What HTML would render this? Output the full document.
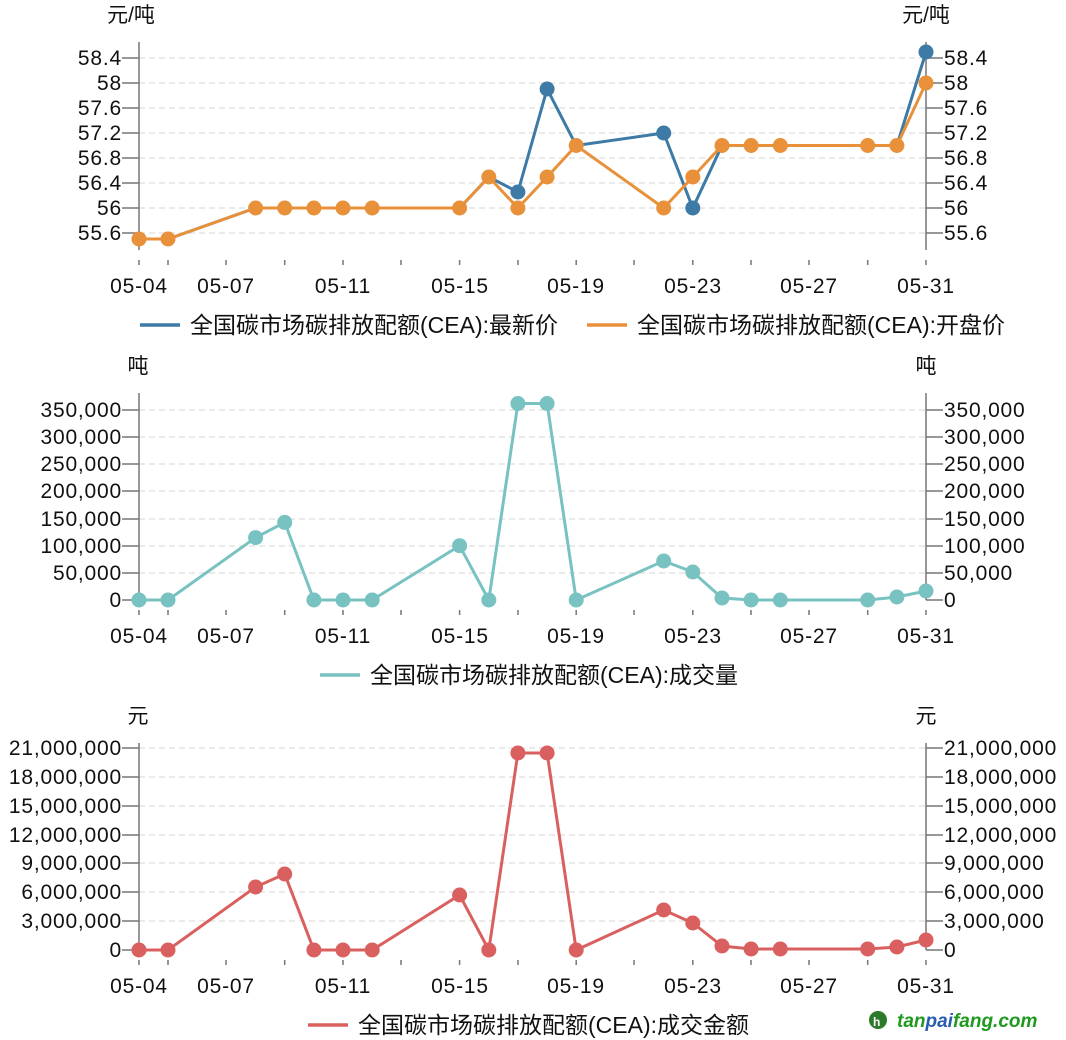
<!DOCTYPE html>
<html><head><meta charset="utf-8"><style>
body{margin:0;background:#fff}
svg{display:block;font-family:"Liberation Sans","Noto Sans CJK SC",sans-serif;font-size:21px;fill:#111}
.n text,text.n{letter-spacing:0.8px}
.g{stroke:#ddd;stroke-dasharray:6 4;stroke-width:1.3}
.ax{stroke:#777;stroke-width:1.5;fill:none}
.l{text-anchor:end}
.m{text-anchor:middle}
.lg{font-size:23px}
.u{font-size:21px}
</style></head><body>
<svg width="1066" height="1040" viewBox="0 0 1066 1040">
<defs>
<g id="xl" class="n">
<text class="m" x="139">05-04</text><text class="m" x="226">05-07</text><text class="m" x="343">05-11</text><text class="m" x="460">05-15</text><text class="m" x="576">05-19</text><text class="m" x="693">05-23</text><text class="m" x="809">05-27</text><text class="m" x="926">05-31</text>
</g>
<path id="xt" class="ax" d="M139 0v5M168 0v5M226 0v5M284.7 0v5M343 0v5M401 0v5M459.6 0v5M518 0v5M576.2 0v5M634 0v5M692.8 0v5M751 0v5M809 0v5M867.7 0v5M926 0v5"/>
</defs>
<!-- Chart 1 -->
<text class="m u" x="131" y="22">元/吨</text><text class="m u" x="926" y="22">元/吨</text>
<g class="g"><line x1="139" x2="926" y1="58" y2="58"/><line x1="139" x2="926" y1="83" y2="83"/><line x1="139" x2="926" y1="108" y2="108"/><line x1="139" x2="926" y1="133" y2="133"/><line x1="139" x2="926" y1="158" y2="158"/><line x1="139" x2="926" y1="183" y2="183"/><line x1="139" x2="926" y1="208" y2="208"/><line x1="139" x2="926" y1="233" y2="233"/></g>
<path class="ax" d="M139 42V250M926 42V250M122 58h17M122 83h17M122 108h17M122 133h17M122 158h17M122 183h17M122 208h17M122 233h17M926 58h17M926 83h17M926 108h17M926 133h17M926 158h17M926 183h17M926 208h17M926 233h17"/>
<g class="l n"><text x="122" y="65">58.4</text><text x="122" y="90">58</text><text x="122" y="115">57.6</text><text x="122" y="140">57.2</text><text x="122" y="165">56.8</text><text x="122" y="190">56.4</text><text x="122" y="215">56</text><text x="122" y="240">55.6</text></g>
<g class="n"><text x="944" y="65">58.4</text><text x="944" y="90">58</text><text x="944" y="115">57.6</text><text x="944" y="140">57.2</text><text x="944" y="165">56.8</text><text x="944" y="190">56.4</text><text x="944" y="215">56</text><text x="944" y="240">55.6</text></g>
<use href="#xt" y="260"/>
<use href="#xl" y="293"/>
<polyline fill="none" stroke="#3d7aa6" stroke-width="3" points="139,239 168,239 255.6,208 284.7,208 313.9,208 343,208 372.2,208 459.6,208 488.8,177 517.9,192 547.1,89 576.2,145.5 663.7,133 692.8,208 722,145.5 751.1,145.5 780.3,145.5 867.7,145.5 896.9,145.5 926,52"/>
<g fill="#3d7aa6"><circle cx="517.9" cy="192" r="7.5"/><circle cx="547.1" cy="89" r="7.5"/><circle cx="663.7" cy="133" r="7.5"/><circle cx="692.8" cy="208" r="7.5"/><circle cx="926" cy="52" r="7.5"/></g>
<polyline fill="none" stroke="#e8913a" stroke-width="3" points="139,239 168,239 255.6,208 284.7,208 313.9,208 343,208 372.2,208 459.6,208 488.8,177 517.9,208 547.1,177 576.2,145.5 663.7,208 692.8,177 722,145.5 751.1,145.5 780.3,145.5 867.7,145.5 896.9,145.5 926,83"/>
<g fill="#e8913a"><circle cx="139" cy="239" r="7.5"/><circle cx="168" cy="239" r="7.5"/><circle cx="255.6" cy="208" r="7.5"/><circle cx="284.7" cy="208" r="7.5"/><circle cx="313.9" cy="208" r="7.5"/><circle cx="343" cy="208" r="7.5"/><circle cx="372.2" cy="208" r="7.5"/><circle cx="459.6" cy="208" r="7.5"/><circle cx="488.8" cy="177" r="7.5"/><circle cx="517.9" cy="208" r="7.5"/><circle cx="547.1" cy="177" r="7.5"/><circle cx="576.2" cy="145.5" r="7.5"/><circle cx="663.7" cy="208" r="7.5"/><circle cx="692.8" cy="177" r="7.5"/><circle cx="722" cy="145.5" r="7.5"/><circle cx="751.1" cy="145.5" r="7.5"/><circle cx="780.3" cy="145.5" r="7.5"/><circle cx="867.7" cy="145.5" r="7.5"/><circle cx="896.9" cy="145.5" r="7.5"/><circle cx="926" cy="83" r="7.5"/></g>
<line x1="140" x2="180" y1="325" y2="325" stroke="#3d7aa6" stroke-width="3.5"/><text class="lg" x="190" y="333">全国碳市场碳排放配额(CEA):最新价</text>
<line x1="587" x2="627" y1="325" y2="325" stroke="#e8913a" stroke-width="3.5"/><text class="lg" x="637" y="333">全国碳市场碳排放配额(CEA):开盘价</text>

<!-- Chart 2 -->
<text class="m u" x="138" y="373">吨</text><text class="m u" x="926" y="373">吨</text>
<g class="g"><line x1="139" x2="926" y1="410" y2="410"/><line x1="139" x2="926" y1="437" y2="437"/><line x1="139" x2="926" y1="464" y2="464"/><line x1="139" x2="926" y1="491" y2="491"/><line x1="139" x2="926" y1="519" y2="519"/><line x1="139" x2="926" y1="546" y2="546"/><line x1="139" x2="926" y1="573" y2="573"/></g>
<path class="ax" d="M139 393V600M926 393V600M122 410h17M122 437h17M122 464h17M122 491h17M122 519h17M122 546h17M122 573h17M122 600h17M926 410h17M926 437h17M926 464h17M926 491h17M926 519h17M926 546h17M926 573h17M926 600h17"/>
<g class="l n"><text x="122" y="417">350,000</text><text x="122" y="444">300,000</text><text x="122" y="471">250,000</text><text x="122" y="498">200,000</text><text x="122" y="526">150,000</text><text x="122" y="553">100,000</text><text x="122" y="580">50,000</text><text x="122" y="607">0</text></g>
<g class="n"><text x="944" y="417">350,000</text><text x="944" y="444">300,000</text><text x="944" y="471">250,000</text><text x="944" y="498">200,000</text><text x="944" y="526">150,000</text><text x="944" y="553">100,000</text><text x="944" y="580">50,000</text><text x="944" y="607">0</text></g>
<use href="#xt" y="610"/>
<use href="#xl" y="643"/>
<polyline fill="none" stroke="#78c2c1" stroke-width="3" points="139,600 168,600 255.6,537.6 284.7,522.4 313.9,600 343,600 372.2,600 459.6,545.7 488.8,600 517.9,403.5 547.1,403.5 576.2,600 663.7,561 692.8,572 722,598 751.1,600 780.3,600 867.7,600 896.9,597 926,591"/>
<g fill="#78c2c1"><circle cx="139" cy="600" r="7.5"/><circle cx="168" cy="600" r="7.5"/><circle cx="255.6" cy="537.6" r="7.5"/><circle cx="284.7" cy="522.4" r="7.5"/><circle cx="313.9" cy="600" r="7.5"/><circle cx="343" cy="600" r="7.5"/><circle cx="372.2" cy="600" r="7.5"/><circle cx="459.6" cy="545.7" r="7.5"/><circle cx="488.8" cy="600" r="7.5"/><circle cx="517.9" cy="403.5" r="7.5"/><circle cx="547.1" cy="403.5" r="7.5"/><circle cx="576.2" cy="600" r="7.5"/><circle cx="663.7" cy="561" r="7.5"/><circle cx="692.8" cy="572" r="7.5"/><circle cx="722" cy="598" r="7.5"/><circle cx="751.1" cy="600" r="7.5"/><circle cx="780.3" cy="600" r="7.5"/><circle cx="867.7" cy="600" r="7.5"/><circle cx="896.9" cy="597" r="7.5"/><circle cx="926" cy="591" r="7.5"/></g>
<line x1="320" x2="360" y1="675" y2="675" stroke="#78c2c1" stroke-width="3.5"/><text class="lg" x="370" y="683">全国碳市场碳排放配额(CEA):成交量</text>

<!-- Chart 3 -->
<text class="m u" x="138" y="723">元</text><text class="m u" x="926" y="723">元</text>
<g class="g"><line x1="139" x2="926" y1="748" y2="748"/><line x1="139" x2="926" y1="777" y2="777"/><line x1="139" x2="926" y1="806" y2="806"/><line x1="139" x2="926" y1="835" y2="835"/><line x1="139" x2="926" y1="863" y2="863"/><line x1="139" x2="926" y1="892" y2="892"/><line x1="139" x2="926" y1="921" y2="921"/></g>
<path class="ax" d="M139 743V950M926 743V950M122 748h17M122 777h17M122 806h17M122 835h17M122 863h17M122 892h17M122 921h17M122 950h17M926 748h17M926 777h17M926 806h17M926 835h17M926 863h17M926 892h17M926 921h17M926 950h17"/>
<g class="l n"><text x="122" y="755">21,000,000</text><text x="122" y="784">18,000,000</text><text x="122" y="813">15,000,000</text><text x="122" y="842">12,000,000</text><text x="122" y="870">9,000,000</text><text x="122" y="899">6,000,000</text><text x="122" y="928">3,000,000</text><text x="122" y="957">0</text></g>
<g class="n"><text x="944" y="755">21,000,000</text><text x="944" y="784">18,000,000</text><text x="944" y="813">15,000,000</text><text x="944" y="842">12,000,000</text><text x="944" y="870">9,000,000</text><text x="944" y="899">6,000,000</text><text x="944" y="928">3,000,000</text><text x="944" y="957">0</text></g>
<use href="#xt" y="960"/>
<use href="#xl" y="993"/>
<polyline fill="none" stroke="#d9605e" stroke-width="3" points="139,950 168,950 255.6,887 284.7,874 313.9,950 343,950 372.2,950 459.6,895 488.8,950 517.9,753 547.1,753 576.2,950 663.7,910 692.8,923 722,946 751.1,949 780.3,949 867.7,949 896.9,947 926,940"/>
<g fill="#d9605e"><circle cx="139" cy="950" r="7.5"/><circle cx="168" cy="950" r="7.5"/><circle cx="255.6" cy="887" r="7.5"/><circle cx="284.7" cy="874" r="7.5"/><circle cx="313.9" cy="950" r="7.5"/><circle cx="343" cy="950" r="7.5"/><circle cx="372.2" cy="950" r="7.5"/><circle cx="459.6" cy="895" r="7.5"/><circle cx="488.8" cy="950" r="7.5"/><circle cx="517.9" cy="753" r="7.5"/><circle cx="547.1" cy="753" r="7.5"/><circle cx="576.2" cy="950" r="7.5"/><circle cx="663.7" cy="910" r="7.5"/><circle cx="692.8" cy="923" r="7.5"/><circle cx="722" cy="946" r="7.5"/><circle cx="751.1" cy="949" r="7.5"/><circle cx="780.3" cy="949" r="7.5"/><circle cx="867.7" cy="949" r="7.5"/><circle cx="896.9" cy="947" r="7.5"/><circle cx="926" cy="940" r="7.5"/></g>
<line x1="308" x2="348" y1="1025" y2="1025" stroke="#d9605e" stroke-width="3.5"/><text class="lg" x="358" y="1033">全国碳市场碳排放配额(CEA):成交金额</text>

<!-- watermark -->
<circle cx="878" cy="1020" r="9" fill="#2d7a2a"/><text x="873" y="1026" style="font-size:12px;fill:#fff;font-weight:bold">h</text>
<text x="897" y="1027" style="font-size:19px;font-weight:bold;font-style:italic;fill:#1f9a1f">tan<tspan fill="#2a5db0">pai</tspan>fang.com</text>
</svg>
</body></html>
